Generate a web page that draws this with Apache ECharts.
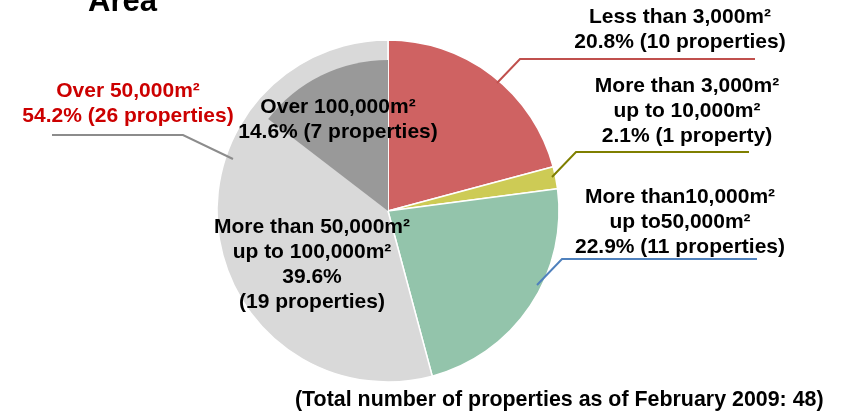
<!DOCTYPE html>
<html>
<head>
<meta charset="utf-8">
<script src="https://cdn.jsdelivr.net/npm/echarts@6/dist/echarts.min.js"></script>
<style>
    html, body { margin: 0; padding: 0; background: #fff; }
    #main { width: 843px; height: 413px; }
</style>
</head>
<body>
<div id="main"></div>
<script>
    // size bands, clockwise from 12 o'clock
    var sizeBands = ['Less than 3,000m²', 'More than 3,000m²\nup to 10,000m²', 'More than10,000m²\nup to50,000m²',
        'More than 50,000m²\nup to 100,000m²', 'Over 100,000m²'];
    var propertyCounts = [10, 1, 11, 19, 7];
    var sliceColors = ['#CF6262', '#CDCB55', '#93C4AB', '#D9D9D9', '#999999'];
    var lineColors = ['#C0504D', '#7F7F00', '#4F81BD', '#8C8C8C'];
    var overBand = 'Over 50,000m²';
    var titleText = 'Area';
    var footnote = '(Total number of properties as of February 2009: 48)';

    var font = 'Arial, "Liberation Sans", sans-serif';
    var clear = 'rgba(0,0,0,0)';

    // outer ring: the two largest bands merged into "Over 50,000m²"
    function outerData(filled) {
        var arr = [];
        for (var i = 0; i < 3; i++) {
            arr.push({name: sizeBands[i], value: propertyCounts[i], itemStyle: {color: filled ? sliceColors[i] : clear}});
        }
        arr.push({name: overBand, value: propertyCounts[3] + propertyCounts[4], itemStyle: {color: filled ? sliceColors[3] : clear}});
        return arr;
    }

    // inner layer: blank for the first three, then the split of the over-50,000 slice
    var innerData = [
        {name: '', value: propertyCounts[0] + propertyCounts[1] + propertyCounts[2], itemStyle: {color: clear}, label: {show: false}},
        {name: sizeBands[3], value: propertyCounts[3], itemStyle: {color: clear}},
        {name: sizeBands[4], value: propertyCounts[4], itemStyle: {color: sliceColors[4]}}
    ];

    function labelText(p, breakPct) {
        var unit = p.value === 1 ? 'property' : 'properties';
        return p.name + '\n' + p.percent.toFixed(1) + '%' + (breakPct ? '\n' : ' ') + '(' + p.value + ' ' + unit + ')';
    }

    var outerLabelPos = [
        {x: 680, y: 30, line: [[497, 83], [520, 59], [755, 59]]},
        {x: 687, y: 111, line: [[552, 177], [576, 152], [749, 152]]},
        {x: 680, y: 222, line: [[537, 285], [562, 259], [757, 259]]},
        {x: 128, y: 104, line: [[233, 159], [183, 135], [52, 135]]}
    ];
    var innerLabelPos = [null, {x: 312, y: 265}, {x: 338, y: 120}];

    var labelFont = {fontFamily: font, fontSize: 21, fontWeight: 'bold', lineHeight: 25, color: '#000'};

    var labelledOuter = outerData(false);
    labelledOuter.forEach(function (d, i) {
        d.labelLine = {lineStyle: {color: lineColors[i], width: 2}};
    });
    labelledOuter[3].label = {color: '#CC0000'};

    var myChart = echarts.init(document.getElementById('main'));
    var option = {
        animation: false,
        title: {
            text: titleText,
            left: 88,
            top: -13,
            padding: 0,
            textStyle: {fontFamily: font, fontSize: 31, fontWeight: 'bold', color: '#000', lineHeight: 31}
        },
        graphic: [{
            type: 'text',
            left: 295,
            top: 390,
            style: {text: footnote, font: 'bold 21.4px ' + font, fill: '#000'}
        }],
        series: [
            {
                // filled slices
                type: 'pie',
                center: [388, 211],
                radius: 171,
                startAngle: 90,
                z: 2,
                data: outerData(true),
                itemStyle: {borderColor: '#fff', borderWidth: 1.5},
                label: {show: false},
                labelLine: {show: false},
                emphasis: {disabled: true}
            },
            {
                // over-100,000 wedge drawn inside the over-50,000 slice
                type: 'pie',
                center: [388, 211],
                radius: 151,
                startAngle: 90,
                percentPrecision: 1,
                z: 3,
                data: innerData,
                label: Object.assign({
                    position: 'inside',
                    formatter: function (p) { return labelText(p, p.dataIndex === 1); }
                }, labelFont),
                labelLine: {show: false},
                labelLayout: function (p) {
                    var pos = innerLabelPos[p.dataIndex];
                    if (!pos) return {};
                    return {x: pos.x, y: pos.y, align: 'center', verticalAlign: 'middle'};
                },
                emphasis: {disabled: true}
            },
            {
                // outer labels and leader lines, on top of the fills
                type: 'pie',
                center: [388, 211],
                radius: 171,
                startAngle: 90,
                percentPrecision: 1,
                z: 4,
                data: labelledOuter,
                label: Object.assign({
                    position: 'outside',
                    overflow: 'none',
                    width: 300,
                    formatter: function (p) { return labelText(p, false); }
                }, labelFont),
                labelLine: {show: true, lineStyle: {width: 2}},
                labelLayout: function (p) {
                    var pos = outerLabelPos[p.dataIndex];
                    return {x: pos.x, y: pos.y, align: 'center', verticalAlign: 'middle', labelLinePoints: pos.line};
                },
                emphasis: {disabled: true}
            }
        ]
    };
    myChart.setOption(option);
</script>
</body>
</html>
